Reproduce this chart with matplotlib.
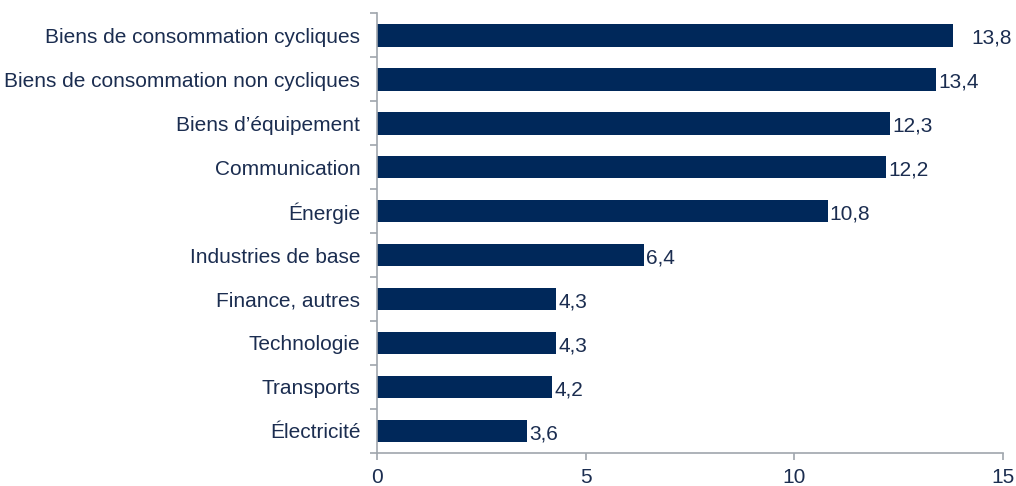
import numpy as np
import matplotlib
matplotlib.use("Agg")
import matplotlib.pyplot as plt

plt.rcParams['font.family'] = ['Liberation Sans', 'DejaVu Sans']

# secteurs, du haut vers le bas
secteurs = ["Biens de consommation cycliques",
            "Biens de consommation non cycliques",
            "Biens d\u2019\u00e9quipement",
            "Communication",
            "\u00c9nergie",
            "Industries de base",
            "Finance, autres",
            "Technologie",
            "Transports",
            "\u00c9lectricit\u00e9"]
valeurs = [13.8, 13.4, 12.3, 12.2, 10.8, 6.4, 4.3, 4.3, 4.2, 3.6]
xticks = [0, 5, 10, 15]

bleu = '#00285a'
texte = '#1b2d50'
gris = '#a0a6ad'

fig = plt.figure(figsize=(10.16, 4.86), dpi=100)
ax = fig.add_axes([0.371, 0.068, 0.616, 0.905])

y = np.arange(len(secteurs))
ax.barh(y, valeurs, height=0.52, color=bleu)
ax.set_ylim(len(secteurs) - 0.5, -0.5)
ax.set_xlim(0, 15)

# étiquettes de valeur, un peu sous le centre de la barre
for i, v in enumerate(valeurs):
    dx = 0.45 if v >= 13.6 else 0.05
    ax.text(v + dx, i + 0.07, ('%.1f' % v).replace('.', ','),
            va='center', ha='left', fontsize=15, color=texte)

ax.set_yticks(y)
ax.set_yticklabels(secteurs, fontsize=15, color=texte)
ax.set_yticks(np.arange(-0.5, len(secteurs)), minor=True)
ax.tick_params(axis='y', which='major', length=0, pad=12)
ax.tick_params(axis='y', which='minor', length=5, color=gris, width=1.2)

ax.set_xticks(xticks)
ax.set_xticklabels([str(t) for t in xticks], fontsize=15, color=texte)
ax.tick_params(axis='x', length=5, color=gris, width=1.2, pad=6)

for s in ['top', 'right']:
    ax.spines[s].set_visible(False)
for s in ['left', 'bottom']:
    ax.spines[s].set_color(gris)
    ax.spines[s].set_linewidth(1.2)

fig.savefig('out.png', dpi=100)
